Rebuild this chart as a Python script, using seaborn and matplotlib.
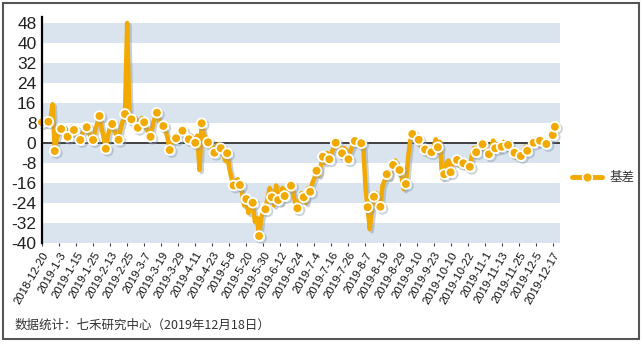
import numpy as np
import pandas as pd
import seaborn as sns
import matplotlib
matplotlib.use("Agg")
import matplotlib.pyplot as plt
import matplotlib.patheffects as pe
from matplotlib.lines import Line2D
from matplotlib.patches import Rectangle

# ---------------- data ----------------
basis = [
    8.3, 7.5, 9.0, 8.5, 10.0, 15.5, -3.2, 2.0, 4.5, 5.6,
    4.0, 6.0, 2.5, 3.5, 6.5, 5.2, 3.0, 2.0, 1.2, 4.0,
    5.5, 6.3, 4.0, 2.5, 1.2, 5.0, 8.0, 10.8, 6.0, 2.0,
    -2.3, 3.0, 6.5, 7.6, 5.0, 3.0, 1.3, 6.0, 9.0, 11.6,
    48.0, 13.0, 9.5, 8.0, 10.0, 6.1, 9.0, 10.0, 8.3, 6.0,
    4.0, 2.5, 7.0, 10.0, 12.1, 9.0, 8.0, 6.8, 5.0, 2.0,
    -2.8, 0.0, 1.5, 1.9, 3.5, 5.5, 4.9, 3.0, 2.0, 1.5,
    3.0, 2.0, 0.1, 3.0, -10.8, 7.9, 3.5, 2.0, 0.3, 0.0,
    -2.0, -3.9, -1.0, -0.5, -2.1, -3.0, -7.0, -4.1, -10.0, -14.0,
    -17.0, -15.0, -14.5, -16.8, -20.0, -25.0, -22.4, -28.0, -24.0, -23.9,
    -31.5, -30.0, -37.2, -30.0, -27.0, -26.5, -22.0, -18.0, -21.7, -25.0,
    -17.0, -22.8, -24.0, -18.0, -21.2, -19.0, -16.5, -17.1, -20.0, -24.0,
    -26.1, -23.0, -20.0, -21.7, -24.0, -18.0, -19.5, -16.0, -14.0, -11.1,
    -13.0, -9.0, -5.5, -8.0, -4.0, -6.5, -4.0, -2.0, 0.1, -1.0,
    -2.5, -4.1, -2.0, -3.0, -6.5, -3.0, -1.0, 0.8, 1.0, 0.5,
    -0.1, -2.0, -18.0, -25.7, -34.5, -27.0, -21.5, -20.0, -23.0, -25.5,
    -17.0, -15.0, -12.5, -14.0, -11.0, -8.8, -7.0, -9.0, -10.8, -14.0,
    -18.5, -16.4, -6.0, 1.0, 3.6, 2.5, 2.0, 1.3, -1.5, -3.0,
    -2.6, -4.5, -2.5, -3.7, -2.0, 1.5, -1.7, 0.5, -14.0, -12.5,
    -8.0, -7.0, -11.7, -8.0, -6.0, -6.8, -9.0, -7.5, -8.1, -10.0,
    -9.0, -9.5, -5.0, -2.0, -3.7, -1.5, -3.0, -0.5, -2.0, -4.0,
    -4.5, -2.0, 1.0, -2.1, -0.5, -3.0, -1.5, 0.5, -2.0, -0.8,
    -2.0, -4.5, -3.9, -6.0, -4.0, -5.2, -3.5, -1.5, -3.1, -1.0,
    0.5, 0.1, 1.5, -0.5, 0.9, 2.0, -0.5, -0.4, 1.0, 2.0,
    3.2, 6.5,
]
tick_labels = [
    "2018-12-20", "2019-1-3", "2019-1-15", "2019-1-25", "2019-2-13",
    "2019-2-25", "2019-3-7", "2019-3-19", "2019-3-29", "2019-4-11",
    "2019-4-23", "2019-5-8", "2019-5-20", "2019-5-30", "2019-6-12",
    "2019-6-24", "2019-7-4", "2019-7-16", "2019-7-26", "2019-8-7",
    "2019-8-19", "2019-8-29", "2019-9-10", "2019-9-23", "2019-10-10",
    "2019-10-22", "2019-11-1", "2019-11-13", "2019-11-25", "2019-12-5",
    "2019-12-17",
]
y_ticks = [-40, -32, -24, -16, -8, 0, 8, 16, 24, 32, 40, 48]
series_name = "基差"
footer = "数据统计：七禾研究中心（2019年12月18日）"

df = pd.DataFrame({"idx": np.arange(len(basis)), "basis": basis})

# ---------------- style ----------------
sns.set_theme(style="white")
plt.rcParams["font.family"] = ["Liberation Sans", "Noto Sans CJK SC", "DejaVu Sans"]

GOLD = "#F2A900"
BAND = "#D9E4EF"

fig = plt.figure(figsize=(6.43, 3.44), dpi=100)
ax = fig.add_axes([42 / 643, 1 - 243 / 344, (560 - 42) / 643, (243 - 17) / 344])

ax.set_ylim(-40, 50.4)
ax.set_xlim(0, 243.4)

# alternating bands
for lo in range(-40, 48, 16):
    ax.axhspan(lo, lo + 8, color=BAND, lw=0, zorder=0)
ax.axhline(0, color="#333333", lw=1.3, zorder=1)

n = len(basis)
mark_idx = list(range(0, n, 3))
if mark_idx[-1] != n - 1:
    mark_idx.append(n - 1)

sns.lineplot(
    data=df, x="idx", y="basis", ax=ax, color=GOLD, lw=3.2,
    marker="o", markersize=7.0, markerfacecolor=GOLD, markeredgecolor="white",
    markeredgewidth=1.3, markevery=mark_idx, zorder=3, clip_on=False,
    legend=False,
    path_effects=[pe.SimpleLineShadow(offset=(1.5, -1.5), shadow_color="#8899aa", alpha=0.45), pe.Normal()],
)

ax.set_xlabel("")
ax.set_ylabel("")
ax.set_yticks(y_ticks)
ax.set_yticklabels([str(v) for v in y_ticks], fontsize=12.5, color="#222222")
ax.set_xticks(list(range(0, 8 * len(tick_labels), 8)))
ax.set_xticklabels(tick_labels, rotation=60, ha="right", rotation_mode="anchor",
                   fontsize=8.2, color="#111111")
ax.tick_params(axis="y", length=0, pad=4)
ax.tick_params(axis="x", length=2, width=0.8, color="#444444", pad=3, bottom=True)

for s in ["top", "right", "bottom"]:
    ax.spines[s].set_visible(False)
ax.spines["left"].set_color("black")
ax.spines["left"].set_linewidth(1.6)
ax.spines["left"].set_zorder(4)

# legend
handle = Line2D([0], [0], color=GOLD, lw=3.5, marker="o", markersize=7,
                markerfacecolor=GOLD, markeredgecolor="white", markeredgewidth=1.2)
leg = fig.legend([handle], [series_name], loc="center left",
                 bbox_to_anchor=(572 / 643, 1 - 178 / 344), frameon=False,
                 borderaxespad=0, borderpad=0,
                 handlelength=2.4, handletextpad=0.6,
                 prop={"family": ["Noto Sans CJK SC"], "size": 9})
for t in leg.get_texts():
    t.set_color("#333333")

# footer
fig.text(15 / 643, 1 - 325 / 344, footer, fontsize=9, color="#333333",
         family=["Noto Sans CJK SC", "DejaVu Sans"], va="center", ha="left")

# outer border
fig.patches.append(Rectangle((3 / 643, 5 / 344), 636 / 643, 336 / 344,
                             transform=fig.transFigure, fill=False,
                             edgecolor="#555555", lw=1.5))

fig.savefig("out.png", dpi=100)
